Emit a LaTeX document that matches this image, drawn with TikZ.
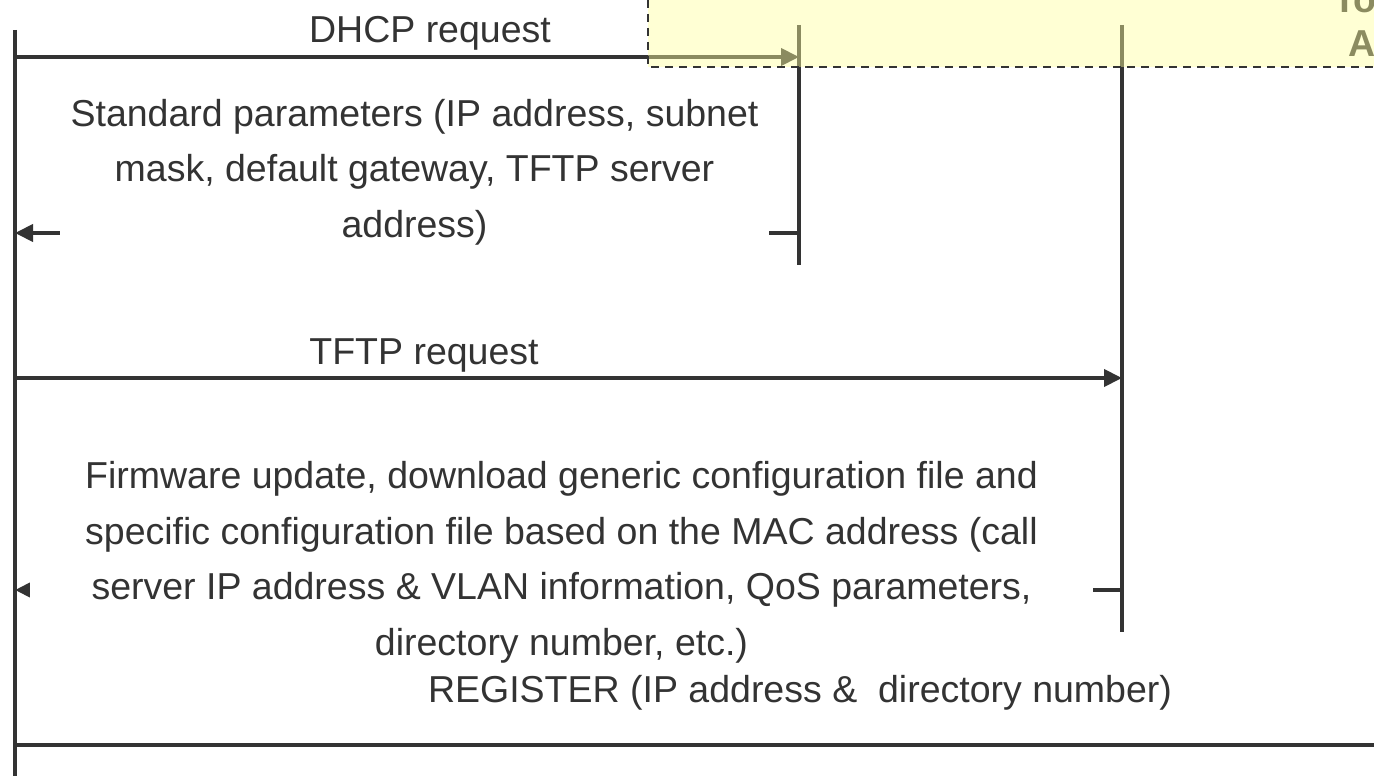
\documentclass[tikz,border=0pt]{standalone}
\usepackage{fontspec}
\setmainfont{Liberation Sans}
\usetikzlibrary{arrows.meta}
\definecolor{ink}{HTML}{333333}
\definecolor{hl}{RGB}{255,255,156}
\begin{document}
\begin{tikzpicture}[x=1pt,y=-1pt,
  lifeline/.style={draw=ink,line width=3.5pt},
  msg/.style={draw=ink,line width=4pt,-{Triangle[length=18pt,width=17pt]}},
  msgsmall/.style={draw=ink,line width=4pt,-{Triangle[length=15pt,width=14pt]}},
  plainmsg/.style={draw=ink,line width=4pt},
  lbl/.style={text=ink,font=\fontsize{37.5}{55.5}\selectfont,inner sep=0pt},
  cover/.style={lbl,fill=white,align=center},
  boxtext/.style={lbl,font=\fontsize{37.5}{55.5}\selectfont\bfseries}]
\useasboundingbox (0,0) rectangle (1374,776);
\clip (0,0) rectangle (1374,776);
% lifelines
\coordinate (Ltop) at (15,30);   \coordinate (Lbot) at (15,780);
\coordinate (Mtop) at (799,25);  \coordinate (Mbot) at (799,265);
\coordinate (Rtop) at (1122,25); \coordinate (Rbot) at (1122,632);
\coordinate (regEnd) at (1390,745);
\draw[lifeline] (Ltop) -- (Lbot);
\draw[lifeline] (Mtop) -- (Mbot);
\draw[lifeline] (Rtop) -- (Rbot);
% DHCP request
\draw[msg] (Ltop |- 0,57) -- (Mtop |- 0,57);
\node[lbl,anchor=base] (dhcp) at (430,43) {DHCP request};
% Standard parameters
\draw[msg] (Mtop |- 0,233) -- (Ltop |- 0,233);
\node[cover,minimum width=709pt,anchor=base] (std) at (414.5,237)
  {Standard parameters (IP address, subnet\\mask, default gateway, TFTP server\\address)};
% TFTP request
\draw[msg] (Ltop |- 0,378) -- (Rtop |- 0,378);
\node[lbl,anchor=base] (tftp) at (424,364) {TFTP request};
% Firmware update
\draw[msgsmall] (Rtop |- 0,590) -- (Ltop |- 0,590);
\node[cover,minimum width=1063pt,anchor=base] (fw) at (561.5,655)
  {Firmware update, download generic configuration file and\\specific configuration file based on the MAC address (call\\server IP address \& VLAN information, QoS parameters,\\directory number, etc.)};
% REGISTER
\draw[plainmsg] (Ltop |- 0,745) -- (regEnd);
\node[lbl,anchor=base] (reg) at (800,702) {REGISTER (IP address \&\ \ directory number)};
% highlighted area
\node[boxtext,anchor=base west] (to) at (1333,13) {To};
\node[boxtext,anchor=base west] (a) at (1348,57) {A};
\fill[hl,fill opacity=0.43] (648,-5) rectangle (1390,67);
\draw[ink,line width=2.5pt,dash pattern=on 8pt off 6pt] (648,0) -- (648,67) -- (1390,67);
\end{tikzpicture}
\end{document}
